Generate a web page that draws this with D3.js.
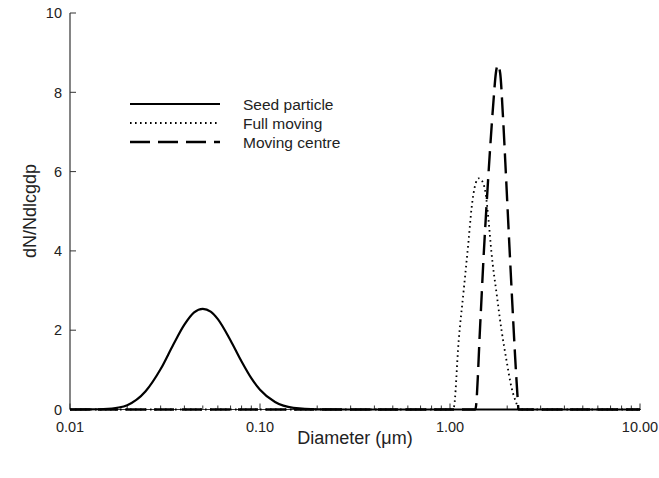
<!DOCTYPE html>
<html>
<head>
<meta charset="utf-8">
<script src="https://cdn.jsdelivr.net/npm/d3@7"></script>
<style>
  html, body { margin: 0; padding: 0; background: #fff; }
  svg { display: block; }
  text { font-family: "Liberation Sans", Arial, sans-serif; fill: #222; }
</style>
</head>
<body>
<svg id="chart" width="659" height="478"></svg>
<script>
// ---- data ----
const seedDiam = [0.01, 0.012, 0.015, 0.018, 0.02, 0.025, 0.03, 0.035, 0.04, 0.045, 0.05, 0.055, 0.06, 0.07, 0.08, 0.09, 0.1, 0.12, 0.15, 0.2, 0.3, 1, 10];
const seedValue = [0.0, 0.002, 0.012, 0.05, 0.11, 0.46, 1.02, 1.64, 2.14, 2.45, 2.54, 2.47, 2.28, 1.74, 1.21, 0.79, 0.5, 0.19, 0.043, 0.004, 0, 0, 0];

const fullDiam = [0.01, 1.0, 1.046, 1.111, 1.18, 1.253, 1.30, 1.364, 1.414, 1.466, 1.539, 1.596, 1.654, 1.758, 1.867, 1.983, 2.106, 2.238, 2.3, 10];
const fullValue = [0, 0, 0.05, 1.74, 3.0, 4.27, 5.1, 5.7, 5.83, 5.78, 5.45, 4.77, 3.94, 2.93, 2.0, 1.24, 0.56, 0.15, 0, 0];

const centreDiam = [0.01, 1.3, 1.359, 1.443, 1.502, 1.563, 1.628, 1.695, 1.743, 1.785, 1.837, 1.896, 1.976, 2.056, 2.133, 2.203, 2.274, 2.293, 10];
const centreValue = [0, 0, 0, 2.17, 3.84, 5.28, 6.62, 7.8, 8.48, 8.69, 8.48, 7.47, 5.78, 4.09, 2.58, 1.31, 0.23, 0, 0];

const seriesNames = ["Seed particle", "Full moving", "Moving centre"];
const xTickValues = [0.01, 0.1, 1, 10];
const xTickLabels = ["0.01", "0.10", "1.00", "10.00"];
const yTickValues = [0, 2, 4, 6, 8, 10];
const yTickLabels = ["0", "2", "4", "6", "8", "10"];
const xTitle = "Diameter (\u03bcm)";
const yTitle = "dN/Ndlcgdp";

// ---- layout ----
const svg = d3.select("#chart");
const pLeft = 70, pRight = 640, pTop = 13, pBottom = 409.5;

const x = d3.scaleLog().domain([0.01, 10]).range([pLeft, pRight]);
const y = d3.scaleLinear().domain([0, 10]).range([pBottom, pTop]);

// minor ticks
const minor = [];
[0.01, 0.1, 1].forEach(d => { for (let k = 2; k <= 9; k++) minor.push(d * k); });

// x axis (ticks pointing inward/up)
const gx = svg.append("g").attr("transform", `translate(0,${pBottom})`);
gx.append("line").attr("x1", pLeft).attr("x2", pRight + 1).attr("stroke", "#333").attr("stroke-width", 1.2);
gx.selectAll("line.minor").data(minor).join("line").attr("class", "minor")
  .attr("x1", d => x(d)).attr("x2", d => x(d)).attr("y1", 0).attr("y2", -4)
  .attr("stroke", "#333").attr("stroke-width", 1);
gx.selectAll("line.major").data(xTickValues).join("line").attr("class", "major")
  .attr("x1", d => x(d)).attr("x2", d => x(d)).attr("y1", 0).attr("y2", -6)
  .attr("stroke", "#333").attr("stroke-width", 1);
gx.selectAll("text").data(xTickValues).join("text")
  .attr("x", d => x(d)).attr("y", 22.5).attr("text-anchor", "middle")
  .attr("font-size", 14.5).text((d, i) => xTickLabels[i]);

// y axis (ticks pointing inward/right)
const gy = svg.append("g").attr("transform", `translate(${pLeft},0)`);
gy.append("line").attr("y1", pTop).attr("y2", pBottom).attr("stroke", "#333").attr("stroke-width", 1.2);
gy.selectAll("line.tick").data(yTickValues).join("line").attr("class", "tick")
  .attr("x1", 0).attr("x2", 6).attr("y1", d => y(d)).attr("y2", d => y(d))
  .attr("stroke", "#333").attr("stroke-width", 1);
gy.selectAll("text").data(yTickValues).join("text")
  .attr("x", -8).attr("y", d => y(d)).attr("dy", "0.36em").attr("text-anchor", "end")
  .attr("font-size", 14.5).text((d, i) => yTickLabels[i]);

// titles
svg.append("text").attr("x", 355).attr("y", 444).attr("text-anchor", "middle")
  .attr("font-size", 18).text(xTitle);
svg.append("text").attr("transform", "translate(36,211) rotate(-90)")
  .attr("text-anchor", "middle").attr("font-size", 18).text(yTitle);

// lines
const styles = [
  { dash: null, width: 2.2 },
  { dash: "1.6,3.4", width: 1.8 },
  { dash: "20,8", width: 2.4 }
];
const series = [
  seedDiam.map((d, i) => [d, seedValue[i]]),
  fullDiam.map((d, i) => [d, fullValue[i]]),
  centreDiam.map((d, i) => [d, centreValue[i]])
];
const line = d3.line().x(d => x(d[0])).y(d => y(d[1])).curve(d3.curveMonotoneX);
series.forEach((s, i) => {
  svg.append("path").datum(s).attr("d", line)
    .attr("fill", "none").attr("stroke", "#000")
    .attr("stroke-width", styles[i].width)
    .attr("stroke-dasharray", styles[i].dash);
});

// legend
const lg = svg.append("g");
seriesNames.forEach((name, i) => {
  const yy = 104 + i * 19;
  lg.append("line").attr("x1", 130).attr("x2", 220).attr("y1", yy).attr("y2", yy)
    .attr("stroke", "#000").attr("stroke-width", styles[i].width)
    .attr("stroke-dasharray", styles[i].dash);
  lg.append("text").attr("x", 243).attr("y", yy).attr("dy", "0.36em")
    .attr("font-size", 15.5).text(name);
});
</script>
</body>
</html>
